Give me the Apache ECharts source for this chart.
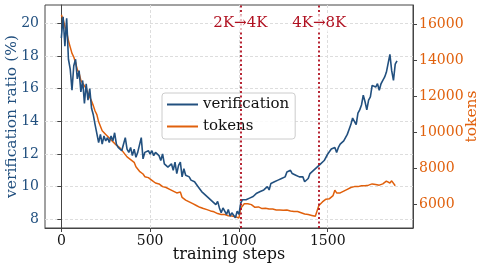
<!DOCTYPE html>
<html><head><meta charset="utf-8">
<script src="https://cdn.jsdelivr.net/npm/echarts@6/dist/echarts.min.js"></script>
<style>html,body{margin:0;padding:0;background:#fff}#c{width:486px;height:269px}</style>
</head><body><div id="c"></div>
<script>
const steps = [0,10,20,30,40,50,60,70,80,90,100,110,120,130,140,150,160,170,180,190,200,210,220,230,240,250,260,270,280,290,300,310,320,330,340,350,360,370,380,390,400,410,420,430,440,450,460,470,480,490,500,510,520,530,540,550,560,570,580,590,600,610,620,630,640,650,660,670,680,690,700,710,720,730,740,750,760,770,780,790,800,810,820,830,840,850,860,870,880,890,900,910,920,930,940,950,960,970,980,990,1000,1010,1020,1030,1040,1050,1060,1070,1080,1090,1100,1110,1120,1130,1140,1150,1160,1170,1180,1190,1200,1210,1220,1230,1240,1250,1260,1270,1280,1290,1300,1310,1320,1330,1340,1350,1360,1370,1380,1390,1400,1410,1420,1430,1440,1450,1460,1470,1480,1490,1500,1510,1520,1530,1540,1550,1560,1570,1580,1590,1600,1610,1620,1630,1640,1650,1660,1670,1680,1690,1700,1710,1720,1730,1740,1750,1760,1770,1780,1790,1800,1810,1820,1830,1840,1850,1860,1870,1880,1890];
const verification = [19.1,20.4,18.6,20.3,17.8,17.2,15.9,17.4,17.8,16.6,17.1,15.8,16.5,15.1,16.3,15.3,16.0,14.8,14.4,13.8,13.9,12.7,13.2,12.6,13.1,12.8,13.0,12.7,13.1,12.8,13.3,12.6,12.4,12.5,12.2,12.6,13.0,12.3,12.1,12.4,11.9,12.3,11.8,12.1,12.0,13.0,11.7,12.1,12.0,12.2,12.0,12.2,11.9,12.1,12.1,11.9,11.6,12.0,11.4,11.5,11.2,11.1,11.4,11.0,11.5,10.8,11.3,11.5,10.6,11.1,10.7,10.8,10.6,10.4,10.5,10.3,10.2,10.0,10.0,9.7,9.8,9.5,9.6,9.3,9.4,9.1,9.2,8.9,9.1,8.7,8.4,8.7,8.5,8.3,8.6,8.2,8.4,8.3,8.1,8.5,8.3,9.0,9.2,9.3,9.2,9.2,9.3,9.2,9.4,9.4,9.6,9.5,9.7,9.6,9.8,9.9,10.0,9.8,10.2,10.1,10.3,10.2,10.4,10.3,10.5,10.6,10.6,10.9,10.8,11.0,10.8,10.7,10.7,10.8,10.6,10.5,10.6,10.3,10.2,10.5,10.8,10.9,11.0,11.1,11.2,11.3,11.4,11.5,11.6,11.7,12.0,12.1,12.3,12.2,12.4,12.1,12.4,12.6,12.5,12.8,12.7,13.2,13.5,13.8,14.2,14.3,13.8,14.5,14.7,15.0,15.6,15.2,14.7,15.3,15.5,16.2,16.3,16.1,16.3,15.9,16.3,16.5,16.7,17.0,16.9,18.1,17.1,16.5,17.5,17.7];
const tokens = [16550,16300,15900,15600,15100,14750,14400,14200,13900,13500,13300,12900,12800,12600,12450,12200,12100,11750,11500,11200,11000,10600,10650,10100,10000,9900,9950,9700,9600,9500,9400,9300,9200,9150,9100,8900,8800,8650,8600,8500,8400,8350,8100,8050,7850,7800,7700,7550,7600,7500,7450,7350,7400,7200,7250,7150,7100,7000,7050,6950,6900,6850,6800,6750,6700,6650,6550,6700,6400,6350,6250,6300,6150,6100,6050,6000,5950,5900,5850,5800,5780,5750,5720,5700,5650,5600,5600,5550,5500,5500,5450,5400,5450,5400,5380,5420,5370,5400,5330,5300,5260,5800,5900,6050,6000,6050,5950,6000,5900,5850,5850,5870,5800,5780,5750,5800,5720,5760,5700,5750,5720,5700,5780,5700,5720,5680,5750,5700,5680,5650,5680,5620,5600,5620,5580,5550,5500,5480,5500,5450,5420,5400,5380,5350,5280,5950,6000,6150,6250,6300,6350,6330,6420,6500,6800,6650,6600,6650,6700,6750,6800,6850,6880,6950,7050,7000,7050,7000,7080,7050,7100,7050,7120,7080,7100,7150,7180,7120,7150,7080,7180,7150,7250,7300,7350,7200,7320,7250,7050];
const xTicks = [0,500,1000,1500];
const leftTicks = [8,10,12,14,16,18,20];
const rightTicks = [6000,8000,10000,12000,14000,16000];
const switches = [{step:1008,label:'2K\u21924K'},{step:1452,label:'4K\u21928K'}];

const BLUE = '#22507f', ORANGE = '#e0600c', RED = '#b01020';
const FONT = 'DejaVu Serif';
const chart = echarts.init(document.getElementById('c'), null, {renderer:'canvas'});
const pair = (arr) => steps.map((s,i)=>[s,arr[i]]);
const plain = v => String(v);
chart.setOption({
  animation:false,
  textStyle:{fontFamily:FONT},
  grid:{left:45,top:5,right:73,bottom:41,outerBoundsMode:'none',containLabel:false,show:true,borderColor:'#444',borderWidth:1,backgroundColor:'transparent'},
  legend:{orient:'vertical',left:162,top:93,padding:[4,6,5,4],itemGap:7,itemWidth:31,itemHeight:14,
    backgroundColor:'rgba(255,255,255,0.85)',borderColor:'#ccc',borderWidth:1,borderRadius:3,
    itemStyle:{opacity:0},
    textStyle:{fontFamily:FONT,fontSize:15,color:'#111'},data:['verification','tokens']},
  xAxis:{type:'value',min:-92,max:1980,name:'training steps',nameLocation:'middle',nameGap:19,nameMoveOverlap:false,
    nameTextStyle:{fontFamily:FONT,fontSize:16,color:'#111'},
    axisLine:{show:true,lineStyle:{color:'#444'}},
    axisTick:{show:true,customValues:xTicks,length:4,lineStyle:{color:'#444'}},
    axisLabel:{customValues:xTicks,formatter:plain,fontFamily:FONT,fontSize:14,color:'#111',margin:6},
    splitLine:{show:true,lineStyle:{color:'#ddd',type:[3,2]}}},
  yAxis:[
    {type:'value',min:7.47,max:21.12,position:'left',name:'verification ratio (%)',nameLocation:'middle',nameGap:25,nameRotate:90,nameMoveOverlap:false,
     nameTextStyle:{fontFamily:FONT,fontSize:15.5,color:BLUE},
     axisLine:{show:true,lineStyle:{color:'#444'}},
     axisTick:{show:true,customValues:leftTicks,length:4,lineStyle:{color:'#444'}},
     axisLabel:{customValues:leftTicks,formatter:plain,fontFamily:FONT,fontSize:14,color:BLUE,margin:6},
     splitLine:{show:true,lineStyle:{color:'#ddd',type:[3,2]}}},
    {type:'value',min:4700,max:17090,position:'right',name:'tokens',nameLocation:'middle',nameGap:51,nameRotate:90,nameMoveOverlap:false,
     nameTextStyle:{fontFamily:FONT,fontSize:15.5,color:ORANGE},
     axisLine:{show:true,lineStyle:{color:'#444'}},
     axisTick:{show:true,customValues:rightTicks,length:4,lineStyle:{color:'#444'}},
     axisLabel:{customValues:rightTicks,formatter:plain,fontFamily:FONT,fontSize:14,color:ORANGE,margin:6},
     splitLine:{show:false}}
  ],
  series:[
    {name:'tokens',type:'line',yAxisIndex:1,data:pair(tokens),symbol:'none',z:2,
     lineStyle:{color:ORANGE,width:1.5},itemStyle:{color:ORANGE}},
    {name:'verification',type:'line',yAxisIndex:0,data:pair(verification),symbol:'none',z:3,
     lineStyle:{color:BLUE,width:1.6},itemStyle:{color:BLUE},
     markLine:{silent:true,symbol:'none',label:{show:false},
       lineStyle:{color:RED,type:[2,2.5],width:1.8},
       data:switches.map(s=>({xAxis:s.step}))},
     markPoint:{silent:true,symbol:'rect',symbolSize:0,
       data:switches.map(s=>({coord:[s.step,20],value:s.label})),
       label:{show:true,position:'inside',formatter:p=>p.value,fontFamily:FONT,fontSize:15,color:RED,
         backgroundColor:'rgba(255,255,255,0.7)',padding:[1,1]}}}
  ]
});
</script></body></html>
